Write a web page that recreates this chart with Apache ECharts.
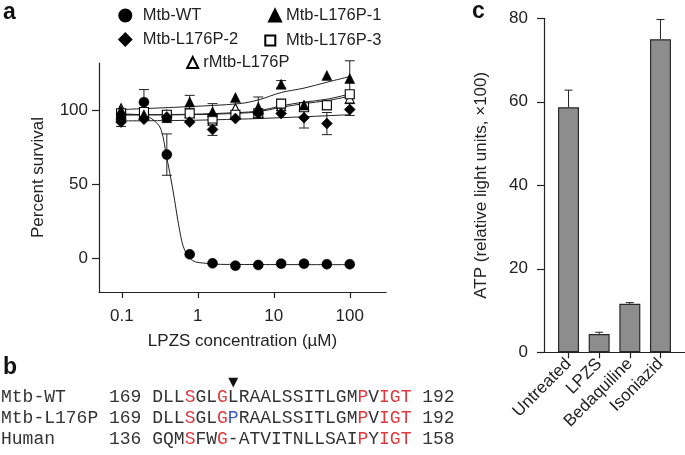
<!DOCTYPE html>
<html>
<head>
<meta charset="utf-8">
<script src="https://cdn.jsdelivr.net/npm/echarts@6/dist/echarts.min.js"></script>
<style>
  html, body { margin: 0; padding: 0; background: #fff; }
  #chart { width: 685px; height: 455px; }
</style>
</head>
<body>
<div id="chart"></div>
<script>
// panel a: LPZS dose response (percent survival)
const conc = [0.09765625, 0.1953125, 0.390625, 0.78125, 1.5625, 3.125, 6.25, 12.5, 25, 50, 100];
const wtVals = [94, 105.5, 70, 2.5, -3.6, -5.2, -4.7, -3.8, -3.8, -4.2, -4.2];
const wtErr = [0, 8.5, 14, 0, 0, 0, 0, 0, 0, 0, 0];
const l1Vals = [100, 97, 95, 105.6, 99, 108.6, 102, 117.6, 103.5, 123.6, 121.5];
const l1Err = [0, 0, 0, 4.5, 5.5, 0, 7, 2.5, 0, 0, 12];
const l2Vals = [92, 94, 95.5, 92, 87, 94.4, 97.8, 97.8, 95, 91, 100.5];
const l2Err = [3, 0, 0, 0, 4, 0, 0, 0, 7, 7.5, 4];
const l3Vals = [98, 98.8, 97, 97.8, 94.4, 97, 98, 104.5, 102, 103.4, 110.8];
const rVals = [101.4, 98, 97, 98, 93, 101.4, 98, 102.7, 102.7, 103.4, 107.9];

// fitted curves
const wtFitX = [0.098, 0.2, 0.28, 0.33, 0.384, 0.47, 0.575, 0.67, 0.86, 1.29, 2, 100];
const wtFitY = [97.5, 96.5, 92, 86.5, 70, 46, 19, 5.4, -1.8, -3.6, -4.3, -4.5];
const resFitX = [0.098, 0.78, 3.5, 6.25, 12.5, 25, 50, 100];
const l1Fit = [100.5, 102.5, 104.5, 107, 112, 115, 119, 122.8];
const l3Fit = [97, 97.3, 98.5, 99.5, 103, 105.5, 107.5, 111];
const rFit = [96.8, 97, 98, 99, 102, 104.5, 106.5, 109.5];
const l2Fit = [92.8, 93.2, 94, 94.4, 95, 95.6, 96.3, 97];

const xTicksA = [0.1, 1, 10, 100];
const yTicksA = [0, 50, 100];

// panel b: alignment
const seqNames = ['Mtb-WT', 'Mtb-L176P', 'Human'];
const seqStart = [169, 169, 136];
const seqEnd = [192, 192, 158];
const seqs = ['DLLSGLGLRAALSSITLGMPVIGT', 'DLLSGLGPRAALSSITLGMPVIGT', 'GQMSFWG-ATVITNLLSAIPYIGT'];
const seqMarks = ['...r..r............r.rrr', '...r..rb...........r.rrr', '...r..r............r.rrr'];

// panel c: ATP levels
const atpCats = ['Untreated', 'LPZS', 'Bedaquiline', 'Isoniazid'];
const atpVals = [58.7, 4.4, 11.6, 75.0];
const atpErr = [4.1, 0.4, 0.3, 4.7];

const FONT = '"Liberation Sans", Arial, sans-serif';
const INK = '#222';
const AX = 17;

const chart = echarts.init(document.getElementById('chart'), null, { renderer: 'canvas' });

const pts = (xs, ys) => xs.map((x, i) => [x, ys[i]]);
const errPts = (ys, es) => conc.map((x, i) => [x, ys[i], es[i]]).filter(d => d[2] > 0);

function errorBar(capHalf, twoSided) {
  return (params, api) => {
    const x = api.value(0), y = api.value(1), e = api.value(2);
    const top = api.coord([x, y + e]);
    const bot = api.coord([x, twoSided ? y - e : y]);
    const style = { stroke: INK, lineWidth: 1 };
    const children = [
      { type: 'line', shape: { x1: top[0], y1: top[1], x2: bot[0], y2: bot[1] }, style },
      { type: 'line', shape: { x1: top[0] - capHalf, y1: top[1], x2: top[0] + capHalf, y2: top[1] }, style }
    ];
    if (twoSided) {
      children.push({ type: 'line', shape: { x1: bot[0] - capHalf, y1: bot[1], x2: bot[0] + capHalf, y2: bot[1] }, style });
    }
    return { type: 'group', children };
  };
}

const fitLine = (name, data) => ({
  name, type: 'line', data, smooth: 0.35, symbol: 'none', silent: true,
  xAxisIndex: 0, yAxisIndex: 0, z: 2,
  lineStyle: { color: INK, width: 1 }
});

const marks = (name, data, symbol, size, filled) => ({
  name, type: 'scatter', data, symbol, symbolSize: size,
  xAxisIndex: 0, yAxisIndex: 0, z: 4,
  itemStyle: filled
    ? { color: '#000', borderColor: '#000', borderWidth: 0.5, opacity: 1 }
    : { color: '#fff', borderColor: '#000', borderWidth: 1.1, opacity: 1 }
});

const errs = (name, data) => ({
  name, type: 'custom', data, renderItem: errorBar(5, true),
  xAxisIndex: 0, yAxisIndex: 0, z: 3, silent: true
});

// panel b text rows
const charW = 10.8;
const seqLeft = 1;
const rowY = [397, 418.5, 439.5];
const seqGraphics = seqs.map((s, r) => {
  let text = '{k|' + seqNames[r].padEnd(10, ' ') + seqStart[r] + ' }';
  for (let i = 0; i < s.length; i++) {
    const m = seqMarks[r][i];
    const key = m === 'r' ? 'r' : m === 'b' ? 'b' : 'k';
    text += '{' + key + '|' + s[i] + '}';
  }
  text += '{k| ' + seqEnd[r] + '}';
  const tok = c => ({ fontSize: 18, fontFamily: '"Liberation Mono", "DejaVu Sans Mono", monospace', fill: c, color: c });
  return {
    type: 'text', x: seqLeft, y: rowY[r], silent: true,
    style: {
      text, verticalAlign: 'middle', align: 'left',
      fontSize: 18, fontFamily: '"Liberation Mono", monospace', fill: '#333',
      rich: { k: tok('#333'), r: tok('#e0393e'), b: tok('#3b57c4') }
    }
  };
});

const legendItem = (name, left, top, size, padLeft) => ({
  data: [name], left, top, itemWidth: size, itemHeight: size, padding: 0,
  selectedMode: false, orient: 'horizontal',
  textStyle: { fontSize: 16.5, fontFamily: FONT, color: INK, padding: [0, 0, 0, padLeft] }
});

const option = {
  animation: false,
  backgroundColor: '#fff',
  legend: [
    legendItem('Mtb-WT', 118.3, 7, 12, 6.4),
    legendItem('Mtb-L176P-1', 268, 7, 12, 0),
    legendItem('Mtb-L176P-2', 118.3, 31, 12, 6.4),
    legendItem('Mtb-L176P-3', 264.3, 32, 10, 5.7),
    legendItem('rMtb-L176P', 186.2, 54, 11, 0)
  ],
  grid: [
    { left: 99, top: 63, right: 299, bottom: 163 },
    { left: 544, top: 18.3, right: 0, bottom: 102.7 }
  ],
  xAxis: [
    {
      type: 'log', gridIndex: 0, logBase: 10, min: 0.05, max: 300,
      name: 'LPZS concentration (\u00b5M)', nameLocation: 'middle', nameGap: 41,
      nameTextStyle: { fontSize: AX, fontFamily: FONT, color: INK },
      axisLine: { onZero: false, lineStyle: { color: INK, width: 1.2 } },
      axisTick: { show: true, inside: false, length: 6, customValues: xTicksA, lineStyle: { color: INK, width: 1.2 } },
      axisLabel: { customValues: xTicksA, margin: 16, fontSize: AX, fontFamily: FONT, color: INK, formatter: v => String(+v) },
      splitLine: { show: false }, minorTick: { show: false }
    },
    {
      type: 'value', gridIndex: 1, min: -0.8, max: 3.8,
      axisLine: { onZero: false, lineStyle: { color: INK, width: 1.2 } },
      axisTick: { show: true, inside: false, length: 6, customValues: [0, 1, 2, 3], lineStyle: { color: INK, width: 1.2 } },
      axisLabel: {
        customValues: [0, 1, 2, 3], rotate: 45, margin: 9, fontSize: AX, fontFamily: FONT, color: INK,
        formatter: v => atpCats[Math.round(v)]
      },
      splitLine: { show: false }
    }
  ],
  yAxis: [
    {
      type: 'value', gridIndex: 0, min: -23, max: 132,
      name: 'Percent survival', nameLocation: 'middle', nameGap: 52.5,
      nameTextStyle: { fontSize: AX, fontFamily: FONT, color: INK },
      axisLine: { show: true, onZero: false, lineStyle: { color: INK, width: 1.2 } },
      axisTick: { show: true, inside: false, length: 7, customValues: yTicksA, lineStyle: { color: INK, width: 1.2 } },
      axisLabel: { customValues: yTicksA, margin: 11, fontSize: AX, fontFamily: FONT, color: INK },
      splitLine: { show: false }
    },
    {
      type: 'value', gridIndex: 1, min: 0, max: 80, interval: 20,
      name: 'ATP (relative light units, \u00d7100)', nameLocation: 'middle', nameGap: 54.5,
      nameTextStyle: { fontSize: AX, fontFamily: FONT, color: INK },
      axisLine: { show: true, onZero: false, lineStyle: { color: INK, width: 1.2 } },
      axisTick: { show: true, inside: false, length: 7, lineStyle: { color: INK, width: 1.2 } },
      axisLabel: { margin: 16, fontSize: AX, fontFamily: FONT, color: INK },
      splitLine: { show: false }
    }
  ],
  series: [
    fitLine('WT fit', pts(wtFitX, wtFitY)),
    fitLine('L176P-1 fit', pts(resFitX, l1Fit)),
    fitLine('L176P-2 fit', pts(resFitX, l2Fit)),
    fitLine('L176P-3 fit', pts(resFitX, l3Fit)),
    fitLine('rMtb fit', pts(resFitX, rFit)),
    errs('WT err', errPts(wtVals, wtErr)),
    errs('L176P-1 err', errPts(l1Vals, l1Err)),
    errs('L176P-2 err', errPts(l2Vals, l2Err)),
    marks('rMtb-L176P', pts(conc, rVals), 'triangle', 9, false),
    marks('Mtb-L176P-3', pts(conc, l3Vals), 'rect', 9, false),
    marks('Mtb-L176P-2', pts(conc, l2Vals), 'diamond', 11, true),
    marks('Mtb-L176P-1', pts(conc, l1Vals), 'triangle', 10, true),
    marks('Mtb-WT', pts(conc, wtVals), 'circle', 10, true),
    {
      name: 'ATP', type: 'bar', xAxisIndex: 1, yAxisIndex: 1, barWidth: 21,
      data: atpCats.map((c, i) => [i, atpVals[i]]),
      itemStyle: { color: '#8d8d8d', borderColor: '#2a2a2a', borderWidth: 1.2 }
    },
    {
      name: 'ATP err', type: 'custom', xAxisIndex: 1, yAxisIndex: 1, z: 3, silent: true,
      data: atpCats.map((c, i) => [i, atpVals[i], atpErr[i]]),
      renderItem: errorBar(4, false)
    }
  ],
  graphic: [
    { type: 'text', x: 3, y: 1, silent: true, style: { text: 'a', font: 'bold 23px "Liberation Sans", Arial', fill: '#111' } },
    { type: 'text', x: 3, y: 356, silent: true, style: { text: 'b', font: 'bold 23px "Liberation Sans", Arial', fill: '#111' } },
    { type: 'text', x: 472, y: 0, silent: true, style: { text: 'c', font: 'bold 23px "Liberation Sans", Arial', fill: '#111' } },
    {
      type: 'text', x: seqLeft + 14 * charW + 7.5 * charW, y: 383, silent: true,
      style: { text: '\u25bc', align: 'center', verticalAlign: 'middle', font: '13px "DejaVu Sans"', fill: '#111' }
    },
    ...seqGraphics
  ]
};

chart.setOption(option);
</script>
</body>
</html>
